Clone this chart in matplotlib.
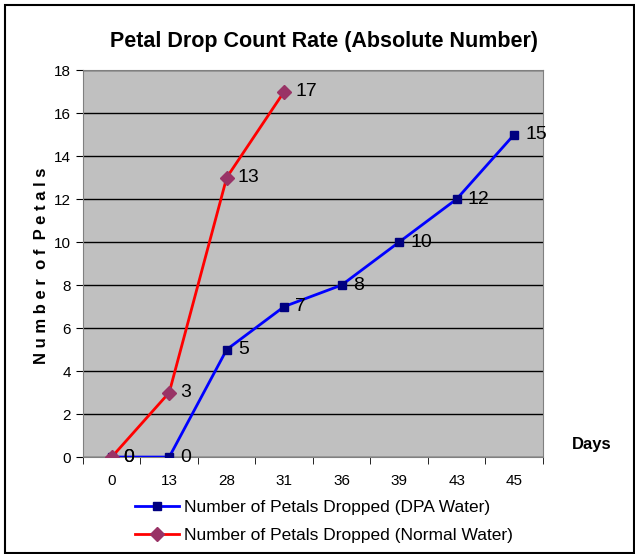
import matplotlib.pyplot as plt
import numpy as np
from matplotlib import font_manager

# --- datos ---
dias = ['0', '13', '28', '31', '36', '39', '43', '45']
petalos_dpa = [0, 0, 5, 7, 8, 10, 12, 15]
petalos_normal = [0, 3, 13, 17]

familias = [f.name for f in font_manager.fontManager.ttflist]
fuente = 'Liberation Sans Narrow' if 'Liberation Sans Narrow' in familias else 'Liberation Sans'
plt.rcParams['font.family'] = [fuente, 'DejaVu Sans']

fig = plt.figure(figsize=(6.35, 5.54), dpi=100)
# borde exterior
fig.patches.append(plt.Rectangle((0.008, 0.002), 0.99, 0.989, transform=fig.transFigure,
                                 fill=False, edgecolor='black', lw=1.5))

ax = fig.add_axes([0.1307, 0.175, 0.7243, 0.6986])
ax.set_facecolor('#c0c0c0')
x = np.arange(len(dias))

ax.plot(x, petalos_dpa, color='#0000ff', lw=2, marker='s', ms=6,
        mfc='#000080', mec='#000080', label='Number of Petals Dropped (DPA Water)', zorder=3)
ax.plot(x[:len(petalos_normal)], petalos_normal, color='#ff0000', lw=2, marker='D', ms=7,
        mfc='#993366', mec='#993366', label='Number of Petals Dropped (Normal Water)', zorder=4)

for i, v in enumerate(petalos_dpa):
    ax.annotate(str(v), (x[i], v), xytext=(8, 0), textcoords='offset points',
                va='center', ha='left', fontsize=14)
for i, v in enumerate(petalos_normal):
    ax.annotate(str(v), (x[i], v), xytext=(8, 0), textcoords='offset points',
                va='center', ha='left', fontsize=14)

ax.set_xlim(-0.5, len(dias) - 0.5)
ax.set_ylim(0, 18)
ax.set_yticks(range(0, 19, 2))
ax.set_xticks(x)
ax.set_xticklabels(dias, fontsize=11)
ax.set_xticks(np.arange(-0.5, len(dias), 1), minor=True)
ax.tick_params(axis='x', which='major', length=0, pad=12)
ax.tick_params(axis='x', which='minor', length=5)
ax.tick_params(axis='y', labelsize=11, length=5)
ax.yaxis.grid(True, color='black', lw=1)
ax.set_axisbelow(True)
for lado in ['top', 'right', 'left', 'bottom']:
    ax.spines[lado].set_color('#808080')

fig.text(0.51, 0.925, 'Petal Drop Count Rate (Absolute Number)', ha='center', va='center',
         fontsize=15.5, fontweight='bold')
fig.text(0.066, 0.52, 'N u m b e r  o f  P e t a l s', rotation=90, ha='center', va='center',
         fontsize=12, fontweight='bold')
fig.text(0.932, 0.197, 'Days', ha='center', va='center', fontsize=12, fontweight='bold')

ax.legend(loc='upper center', bbox_to_anchor=(0.524, -0.07), frameon=False, fontsize=12.5,
          handlelength=2.5, labelspacing=0.75, handletextpad=0.3)

plt.savefig('out.png', dpi=100)
